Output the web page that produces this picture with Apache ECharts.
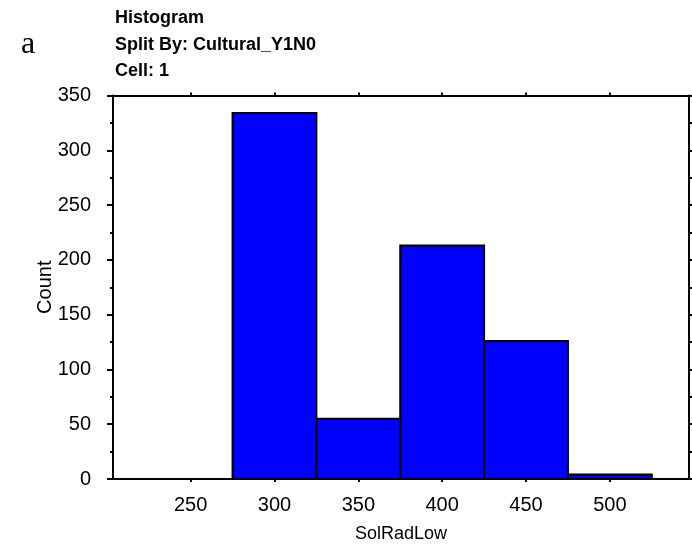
<!DOCTYPE html>
<html>
<head>
<meta charset="utf-8">
<style>
  html, body { margin: 0; padding: 0; background: #fff; }
  #chart { width: 692px; height: 548px; }
</style>
<script src="https://cdn.jsdelivr.net/npm/echarts@6/dist/echarts.min.js"></script>
</head>
<body>
<div id="chart"></div>
<script>
// Histogram bins of SolRadLow (bin start, bin end) and their counts
const binStarts = [275, 325, 375, 425, 475];
const binEnds   = [325, 375, 425, 475, 525];
const counts    = [334, 55, 213, 126, 4];

// Axis ticks
const xTicks = [250, 300, 350, 400, 450, 500];
const xRange = [203.7, 547.2];
const yRange = [0, 350];

const titleLines = ['Histogram', 'Split By: Cultural_Y1N0', 'Cell: 1'];
const panelTag = 'a';

const FONT = '"Liberation Sans", Arial, sans-serif';

const histData = binStarts.map((s, i) => [s, binEnds[i], counts[i]]);

const chart = echarts.init(document.getElementById('chart'), null, { renderer: 'canvas' });

const hiddenGrid = { show: false };

chart.setOption({
  animation: false,
  backgroundColor: '#ffffff',
  title: {
    text: titleLines.join('\n'),
    left: 115,
    top: 5,
    padding: 0,
    textStyle: {
      fontFamily: FONT,
      fontWeight: 'bold',
      fontSize: 18,
      lineHeight: 26.5,
      color: '#000'
    }
  },
  graphic: [{
    type: 'text',
    left: 21,
    top: 29,
    style: {
      text: panelTag,
      font: '32px "Liberation Serif", "Times New Roman", serif',
      fill: '#000'
    }
  }],
  grid: { left: 113, right: 3, top: 95.5, bottom: 68.5, containLabel: false },
  xAxis: [{
    type: 'value',
    min: xRange[0],
    max: xRange[1],
    position: 'bottom',
    name: 'SolRadLow',
    nameLocation: 'middle',
    nameGap: 46,
    nameMoveOverlap: false,
    nameTextStyle: { fontFamily: FONT, fontSize: 18, color: '#000' },
    axisLine: { show: true, onZero: false, lineStyle: { color: '#000', width: 2 } },
    axisTick: { show: true, customValues: xTicks, length: 3, inside: false, lineStyle: { color: '#000', width: 2 } },
    axisLabel: { customValues: xTicks, margin: 16, fontFamily: FONT, fontSize: 20, color: '#000', showMinLabel: true, showMaxLabel: true },
    splitLine: hiddenGrid
  }, {
    type: 'value',
    min: xRange[0],
    max: xRange[1],
    position: 'top',
    axisLine: { show: true, onZero: false, lineStyle: { color: '#000', width: 2 } },
    axisTick: { show: true, customValues: xTicks, length: 3, inside: false, lineStyle: { color: '#000', width: 2 } },
    axisLabel: { show: false },
    splitLine: hiddenGrid
  }],
  yAxis: [{
    type: 'value',
    min: yRange[0],
    max: yRange[1],
    interval: 50,
    position: 'left',
    name: 'Count',
    nameLocation: 'middle',
    nameRotate: 90,
    nameGap: 58,
    nameMoveOverlap: false,
    nameTextStyle: { fontFamily: FONT, fontSize: 20, color: '#000' },
    axisLine: { show: true, onZero: false, lineStyle: { color: '#000', width: 2 } },
    axisTick: { show: true, length: 6, lineStyle: { color: '#000', width: 2 } },
    minorTick: { show: true, splitNumber: 2, length: 3, lineStyle: { color: '#000', width: 2 } },
    axisLabel: { margin: 22, fontFamily: FONT, fontSize: 20, color: '#000' },
    splitLine: hiddenGrid,
    minorSplitLine: hiddenGrid
  }, {
    type: 'value',
    min: yRange[0],
    max: yRange[1],
    interval: 25,
    position: 'right',
    axisLine: { show: true, onZero: false, lineStyle: { color: '#000', width: 2 } },
    axisTick: { show: true, length: 3, lineStyle: { color: '#000', width: 2 } },
    axisLabel: { show: false },
    splitLine: hiddenGrid
  }],
  series: [{
    type: 'custom',
    xAxisIndex: 0,
    yAxisIndex: 0,
    data: histData,
    encode: { x: [0, 1], y: 2 },
    renderItem: function (params, api) {
      const p0 = api.coord([api.value(0), api.value(2)]);
      const p1 = api.coord([api.value(1), 0]);
      return {
        type: 'rect',
        shape: { x: p0[0], y: p0[1], width: p1[0] - p0[0], height: p1[1] - p0[1] },
        style: { fill: '#0000ff', stroke: '#000', lineWidth: 2 }
      };
    }
  }]
});
</script>
</body>
</html>
